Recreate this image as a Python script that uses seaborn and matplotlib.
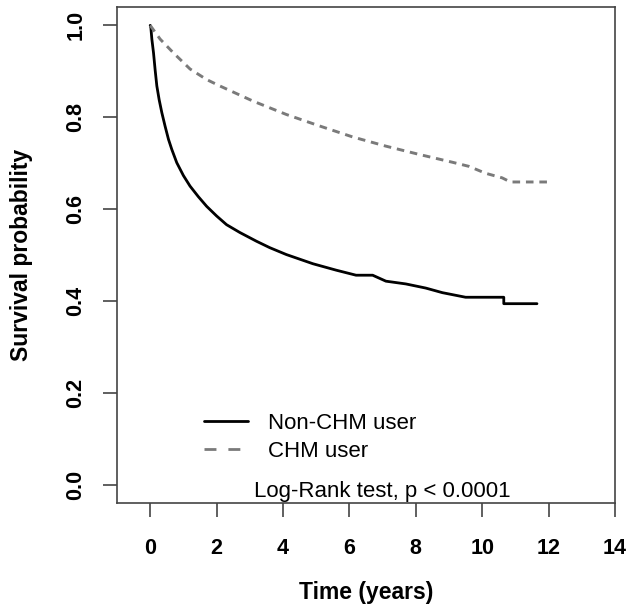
import matplotlib
matplotlib.use("Agg")
import matplotlib.pyplot as plt
from matplotlib.lines import Line2D
import seaborn as sns
import pandas as pd

# Non-CHM user (solid)
non_chm_time = [0.0, 0.02, 0.05, 0.1, 0.15, 0.2, 0.27, 0.35, 0.45, 0.55, 0.65, 0.8, 1.0,
                1.2, 1.45, 1.7, 2.0, 2.3, 2.7, 3.2, 3.6, 4.1, 4.9,
                5.6, 6.2, 6.7, 7.1, 7.7, 8.3, 8.8, 9.5, 10.65, 10.65, 11.65]
non_chm_surv = [1.0, 0.995, 0.970, 0.940, 0.902, 0.868, 0.838, 0.810, 0.780, 0.752, 0.730,
                0.701, 0.673, 0.650, 0.627, 0.606, 0.585, 0.566, 0.549, 0.530, 0.516,
                0.501, 0.481, 0.467, 0.456, 0.456, 0.443, 0.437, 0.428, 0.418, 0.408,
                0.408, 0.394, 0.394]

# CHM user (dashed)
chm_time = [0.0, 0.3, 0.7, 1.2, 1.7, 2.1, 3.1, 4.1, 5.1, 6.1, 7.1, 8.1, 9.1, 9.6,
            10.1, 10.6, 10.85, 11.95]
chm_surv = [1.0, 0.970, 0.940, 0.905, 0.882, 0.868, 0.835, 0.806, 0.781, 0.757, 0.737,
            0.719, 0.702, 0.693, 0.678, 0.668, 0.659, 0.659]

labels = ["Non-CHM user", "CHM user"]
x_ticks = [0, 2, 4, 6, 8, 10, 12, 14]
y_ticks = [0.0, 0.2, 0.4, 0.6, 0.8, 1.0]
annotation = "Log-Rank test, p < 0.0001"

sns.set_style("white")
plt.rcParams['font.family'] = ['Liberation Sans', 'DejaVu Sans']

df1 = pd.DataFrame({"t": non_chm_time, "s": non_chm_surv})
df2 = pd.DataFrame({"t": chm_time, "s": chm_surv})

SOLID = "black"
DASH = "#7a7a7a"

fig = plt.figure(figsize=(6.4, 6.09), dpi=100)
ax = fig.add_axes([117/640, 1 - 503/609, (615-117)/640, (503-7)/609])

sns.lineplot(data=df1, x="t", y="s", ax=ax, estimator=None, sort=False,
             color=SOLID, linewidth=2.0)
sns.lineplot(data=df2, x="t", y="s", ax=ax, estimator=None, sort=False,
             color=DASH, linewidth=2.1)
ax.lines[1].set_dashes((2.6, 2.0))

ax.set_xlim(-1, 14)
ax.set_ylim(-0.04, 1.04)
ax.set_xticks(x_ticks)
ax.set_xticklabels([str(v) for v in x_ticks], fontweight="bold", fontsize=15.5, color="black")
ax.set_yticks(y_ticks)
ax.set_yticklabels([f"{v:.1f}" for v in y_ticks], fontweight="bold", fontsize=15.5,
                   rotation=90, va="center", color="black")
ax.tick_params(axis="both", direction="out", length=10, width=1.2, color="#444444",
               bottom=True, left=True)
ax.tick_params(axis="x", pad=15)
ax.tick_params(axis="y", pad=12)

for sp in ax.spines.values():
    sp.set_visible(True)
    sp.set_color("#444444")
    sp.set_linewidth(1.2)

ax.set_xlabel("Time (years)", fontweight="bold", fontsize=16.5, color="black")
ax.set_ylabel("Survival probability", fontweight="bold", fontsize=16.5, color="black")
ax.xaxis.set_label_coords(0.5, -(592 - 503) / 496)
ax.yaxis.set_label_coords(-(117 - 22) / 498, 0.5)
ax.xaxis.label.set_va("center")
ax.yaxis.label.set_va("center")

handles = [Line2D([], [], color=SOLID, linewidth=2.0),
           Line2D([], [], color=DASH, linewidth=2.0, dashes=(4.3, 4.3))]
leg = ax.legend(handles, labels, loc="upper left",
                bbox_to_anchor=((204-117)/498, (503-413)/496),
                frameon=False, fontsize=16, handlelength=2.0, handletextpad=0.9,
                labelspacing=0.32, borderpad=0, borderaxespad=0)
for t in leg.get_texts():
    t.set_color("black")

ax.text(7, -0.014, annotation, ha="center", va="center", fontsize=16, color="black")

fig.savefig("out.png", dpi=100, facecolor="white")
